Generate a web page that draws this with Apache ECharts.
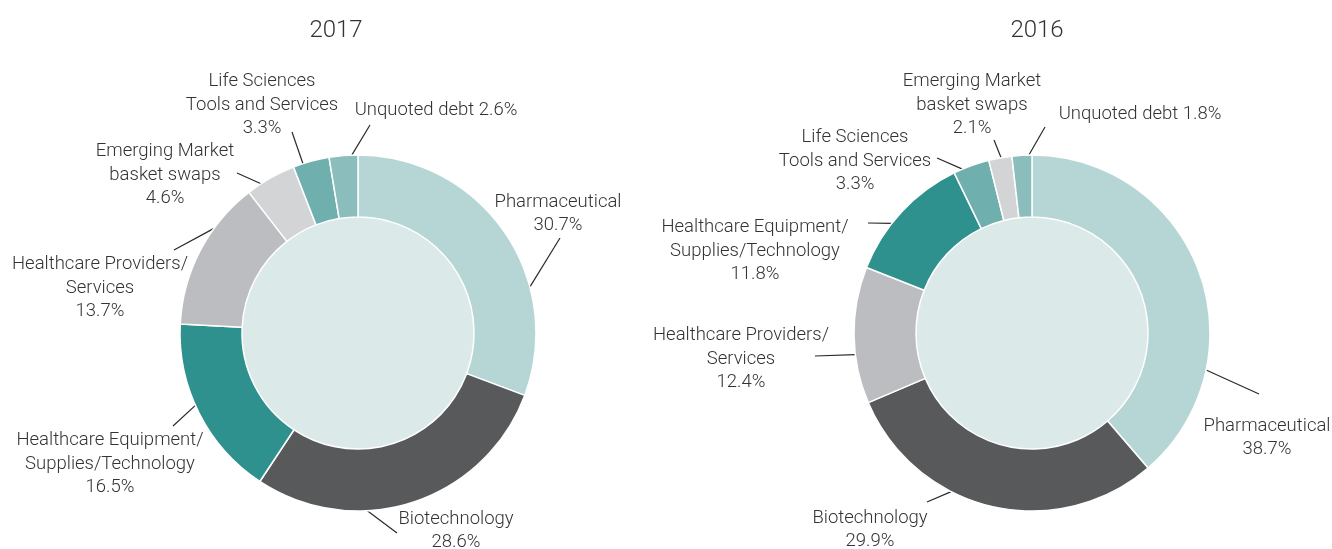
<!DOCTYPE html>
<html>
<head>
<meta charset="utf-8">
<script src="https://cdn.jsdelivr.net/npm/echarts@6/dist/echarts.min.js"></script>
<style>
  html, body { margin: 0; padding: 0; background: #fff; }
  #chart { width: 1332px; height: 549px; }
</style>
</head>
<body>
<div id="chart"></div>
<script>
// 数据
const names2017 = ['Pharmaceutical', 'Biotechnology', 'Healthcare Equipment/\nSupplies/Technology', 'Healthcare Providers/\nServices', 'Emerging Market\nbasket swaps', 'Life Sciences\nTools and Services', 'Unquoted debt'];
const values2017 = [30.7, 28.6, 16.5, 13.7, 4.6, 3.3, 2.6];
const colors2017 = ['#b5d6d5', '#58595b', '#2e918d', '#bcbdc0', '#d3d4d6', '#6fb0ae', '#8bbdbc'];

const names2016 = ['Pharmaceutical', 'Biotechnology', 'Healthcare Providers/\nServices', 'Healthcare Equipment/\nSupplies/Technology', 'Life Sciences\nTools and Services', 'Emerging Market\nbasket swaps', 'Unquoted debt'];
const values2016 = [38.7, 29.9, 12.4, 11.8, 3.3, 2.1, 1.8];
const colors2016 = ['#b5d6d5', '#58595b', '#bcbdc0', '#2e918d', '#6fb0ae', '#d3d4d6', '#8bbdbc'];

const titles = ['2017', '2016'];

// 标签摆放 (相对圆心): 引导线起点角度(度, 顶部顺时针), 引导线终点, 标签中心
const labelPlace2017 = [
    { a: 75, end: [202, -95], at: [200, -119] },
    { a: 177, end: [39, 200], at: [98, 198] },
    { a: 246, end: [-185, 93], at: [-248, 131] },
    { a: 306, end: [-184, -83], at: [-258, -45] },
    { a: 327, end: [-121, -160], at: [-193, -158] },
    { a: 342, end: [-66, -201], at: [-96, -228] },
    { a: 358, end: [12, -208], at: [78, -223] }
];
const labelPlace2016 = [
    { a: 102, end: [227, 61], at: [235, 105] },
    { a: 207, end: [-105, 169], at: [-162, 197] },
    { a: 263, end: [-217, 23], at: [-291, 26] },
    { a: 308, end: [-164, -110], at: [-277, -82] },
    { a: 337, end: [-95, -175], at: [-177, -172] },
    { a: 350, end: [-38, -193], at: [-60, -228] },
    { a: 359, end: [13, -206], at: [108, -219] }
];

const FONT = 'Roboto, "Liberation Sans", sans-serif';
const CY = 333;
const R_IN = 116, R_OUT = 178;

function makeLayout(cx, place) {
    return function (params) {
        const p = place[params.dataIndex];
        if (!p) return {};
        const rad = p.a * Math.PI / 180;
        const start = [cx + R_OUT * Math.sin(rad), CY - R_OUT * Math.cos(rad)];
        const end = [cx + p.end[0], CY + p.end[1]];
        return {
            x: cx + p.at[0],
            y: CY + p.at[1],
            align: 'center',
            verticalAlign: 'middle',
            labelLinePoints: [start, end, end]
        };
    };
}

function ringSeries(names, values, colors, cx, place) {
    return {
        type: 'pie',
        center: [cx, CY],
        radius: [R_IN, R_OUT],
        startAngle: 90,
        clockwise: true,
        avoidLabelOverlap: false,
        silent: true,
        itemStyle: { borderColor: '#fff', borderWidth: 1.5 },
        label: {
            show: true,
            position: 'outside',
            color: '#333',
            fontFamily: FONT,
            fontWeight: 300,
            fontSize: 18.5,
            lineHeight: 23.5,
            formatter: (p) => p.name + (p.name === 'Unquoted debt' ? ' ' : '\n') + p.value.toFixed(1) + '%'
        },
        labelLine: {
            show: true,
            length: 20,
            length2: 0,
            lineStyle: { color: '#2a2a2a', width: 1.2 }
        },
        labelLayout: makeLayout(cx, place),
        data: values.map((v, i) => ({ name: names[i], value: v, itemStyle: { color: colors[i] } }))
    };
}

// 中间的浅色圆
function innerSeries(cx) {
    return {
        type: 'pie',
        center: [cx, CY],
        radius: [0, R_IN],
        silent: true,
        label: { show: false },
        labelLine: { show: false },
        itemStyle: { color: '#dce9e9' },
        data: [{ value: 1, name: '' }]
    };
}

const titleStyle = { fontFamily: FONT, fontWeight: 300, fontSize: 24, color: '#333' };

const chart = echarts.init(document.getElementById('chart'));
chart.setOption({
    animation: false,
    title: [
        { text: titles[0], left: 331, top: 14, textAlign: 'center', textStyle: titleStyle },
        { text: titles[1], left: 1032, top: 14, textAlign: 'center', textStyle: titleStyle }
    ],
    series: [
        innerSeries(358),
        ringSeries(names2017, values2017, colors2017, 358, labelPlace2017),
        innerSeries(1032),
        ringSeries(names2016, values2016, colors2016, 1032, labelPlace2016)
    ]
});
</script>
</body>
</html>
